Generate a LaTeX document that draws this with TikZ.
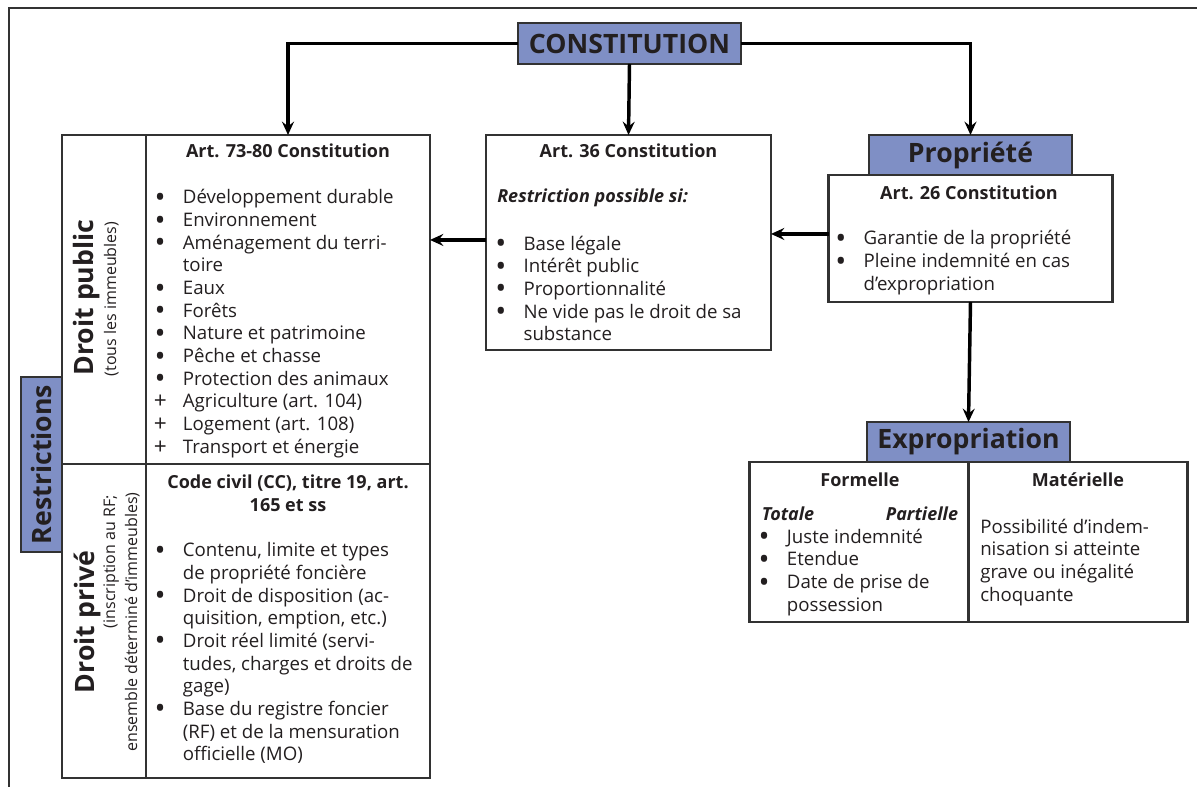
\documentclass[tikz,border=0pt]{standalone}
\usepackage{fontspec}
\setmainfont{Open Sans}
\usetikzlibrary{positioning,arrows.meta}

\definecolor{titleblue}{RGB}{127,143,197}
\definecolor{ink}{RGB}{35,31,32}
\definecolor{rulegray}{RGB}{50,50,50}

% bullet item and continuation line
\newcommand{\itm}[1]{\makebox[7pt]{#1}\hspace{13.5pt}}
\newcommand{\bul}{\raisebox{-2.6pt}[0pt][0pt]{\fontsize{22}{17}\selectfont •}}
\newcommand{\pls}{\raisebox{-0.6pt}[0pt][0pt]{\fontsize{17}{17}\selectfont +}}
\newcommand{\cont}{\hspace*{20.5pt}}

\tikzset{
  box/.style={draw=rulegray, line width=1.7pt, fill=white, inner sep=0pt, outer sep=0pt},
  titlebox/.style={box, fill=titleblue, font=\fontsize{20}{24}\selectfont\bfseries},
  arr/.style={-{Stealth[length=10pt,width=9pt,inset=3.5pt]}, line width=2.6pt},
  head/.style={font=\fontsize{13.5}{17.5}\selectfont\bfseries, anchor=base, inner sep=0pt, align=center},
  headit/.style={head, font=\fontsize{13.5}{17}\selectfont\bfseries\itshape},
  list/.style={font=\fontsize{14}{17}\selectfont, anchor=base west, inner sep=0pt, align=left},
  bigtitle/.style={font=\fontsize{20}{24}\selectfont\bfseries, inner sep=0pt, rotate=90, anchor=base},
  subtitle/.style={font=\fontsize{12}{14}\selectfont, inner sep=0pt, rotate=90, anchor=base}
}

\begin{document}
\begin{tikzpicture}[x=0.75pt, y=-0.75pt, text=ink, node distance=0pt]
  \useasboundingbox (0,0) rectangle (1197,787);
  \draw[rulegray, line width=1.1pt] (9,787) -- (9,8) -- (1197,8);

  % boxes
  \node [titlebox, minimum width=167.25pt, minimum height=30.75pt] (constitution) at (629.5,43.5) {CONSTITUTION};
  \node [titlebox, rotate=90, minimum width=131.25pt, minimum height=30.75pt] (restrictions) at (41.5,464.5) {Restrictions};
  \node [box, anchor=north west, minimum width=63pt, minimum height=246.75pt] (dpublic) at (62,135) {};
  \node [box, minimum width=213pt, minimum height=246.75pt] (art73) [right=of dpublic] {};
  \node [box, minimum width=63pt, minimum height=235.5pt] (dprive) [below=of dpublic] {};
  \node [box, minimum width=213pt, minimum height=235.5pt] (codecivil) [below=of art73] {};
  \node [box, anchor=north west, minimum width=213.75pt, minimum height=161.25pt] (art36) at (486,135) {};
  \node [titlebox, minimum width=152.25pt, minimum height=30pt] (propriete) at (970.5,155) {Propriété};
  \node [box, minimum width=213pt, minimum height=95.25pt] (art26) [below=of propriete] {};
  \node [titlebox, minimum width=152.25pt, minimum height=30pt] (expropriation) at (968.5,442) {Expropriation};
  \node [box, minimum width=164.25pt, minimum height=120pt] (formelle) [below left=0pt and 0pt of expropriation.south] {};
  \node [box, minimum width=164.25pt, minimum height=120pt] (materielle) [right=of formelle] {};

  % connectors
  \draw[arr] (constitution.west) -| (art73.north);
  \draw[arr] (constitution.south) -- (art36.north);
  \draw[arr] (constitution.east) -| (propriete.north);
  \draw[arr] ([yshift=3.4pt]art26.west) -- ([yshift=3.4pt]art26.west -| art36.east);
  \draw[arr] ([yshift=1.9pt]art36.west) -- ([yshift=1.9pt]art36.west -| art73.east);
  \draw[arr] (art26.south) -- (expropriation.north);

  % rotated labels
  \node [bigtitle] (tpublic) at (93,297.5) {Droit public};
  \node [subtitle] (tpublicsub) at (116,299) {(tous les immeubles)};
  \node [bigtitle] (tprive) at (94,622) {Droit privé};
  \node [subtitle, anchor=base east] (tprivesub) at (115,495) {(inscription au RF;};
  \node [subtitle] (tprivesubb) at (137,622) {ensemble déterminé d’immeubles)};

  % headers (base = last line)
  \node [head] (h73) at (288,158) {Art. 73-80 Constitution};
  \node [head] (hcc) at (288,511.7) {Code civil (CC), titre 19, art.\\165 et ss};
  \node [head] (h36) at (628.5,158) {Art. 36 Constitution};
  \node [headit, anchor=base west] (hcond) at (497,203) {Restriction possible si:};
  \node [head] (h26) at (969,200) {Art. 26 Constitution};
  \node [head] (hform) at (860,486.7) {Formelle};
  \node [head] (hmat) at (1078,486.7) {Matérielle};
  \node [headit, anchor=base west] (htot) at (761.7,520.7) {Totale};
  \node [headit, anchor=base east] (hpart) at (958.3,520.7) {Partielle};

  % lists (base = last line)
  \node [list] (l73) at (155.3,453.3) {\itm{\bul}Développement durable\\
    \itm{\bul}Environnement\\
    \itm{\bul}Aménagement du terri-\\
    \cont toire\\
    \itm{\bul}Eaux\\
    \itm{\bul}Forêts\\
    \itm{\bul}Nature et patrimoine\\
    \itm{\bul}Pêche et chasse\\
    \itm{\bul}Protection des animaux\\
    \itm{\pls}Agriculture (art. 104)\\
    \itm{\pls}Logement (art. 108)\\
    \itm{\pls}Transport et énergie};
  \node [list] (lcc) at (155.3,760.7) {\itm{\bul}Contenu, limite et types\\
    \cont de propriété foncière\\
    \itm{\bul}Droit de disposition (ac-\\
    \cont quisition, emption, etc.)\\
    \itm{\bul}Droit réel limité (servi-\\
    \cont tudes, charges et droits de\\
    \cont gage)\\
    \itm{\bul}Base du registre foncier\\
    \cont (RF) et de la mensuration\\
    \cont officielle (MO)};
  \node [list] (l36) at (496,340.7) {\itm{\bul}Base légale\\
    \itm{\bul}Intérêt public\\
    \itm{\bul}Proportionnalité\\
    \itm{\bul}Ne vide pas le droit de sa\\
    \cont substance};
  \node [list] (l26) at (836,290.3) {\itm{\bul}Garantie de la propriété\\
    \itm{\bul}Pleine indemnité en cas\\
    \cont d’expropriation};
  \node [list] (lform) at (759.3,611.3) {\itm{\bul}Juste indemnité\\
    \itm{\bul}Etendue\\
    \itm{\bul}Date de prise de\\
    \cont possession};
  \node [list] (lmat) at (980,601.3) {Possibilité d’indem-\\
    nisation si atteinte\\
    grave ou inégalité\\
    choquante};
\end{tikzpicture}
\end{document}
